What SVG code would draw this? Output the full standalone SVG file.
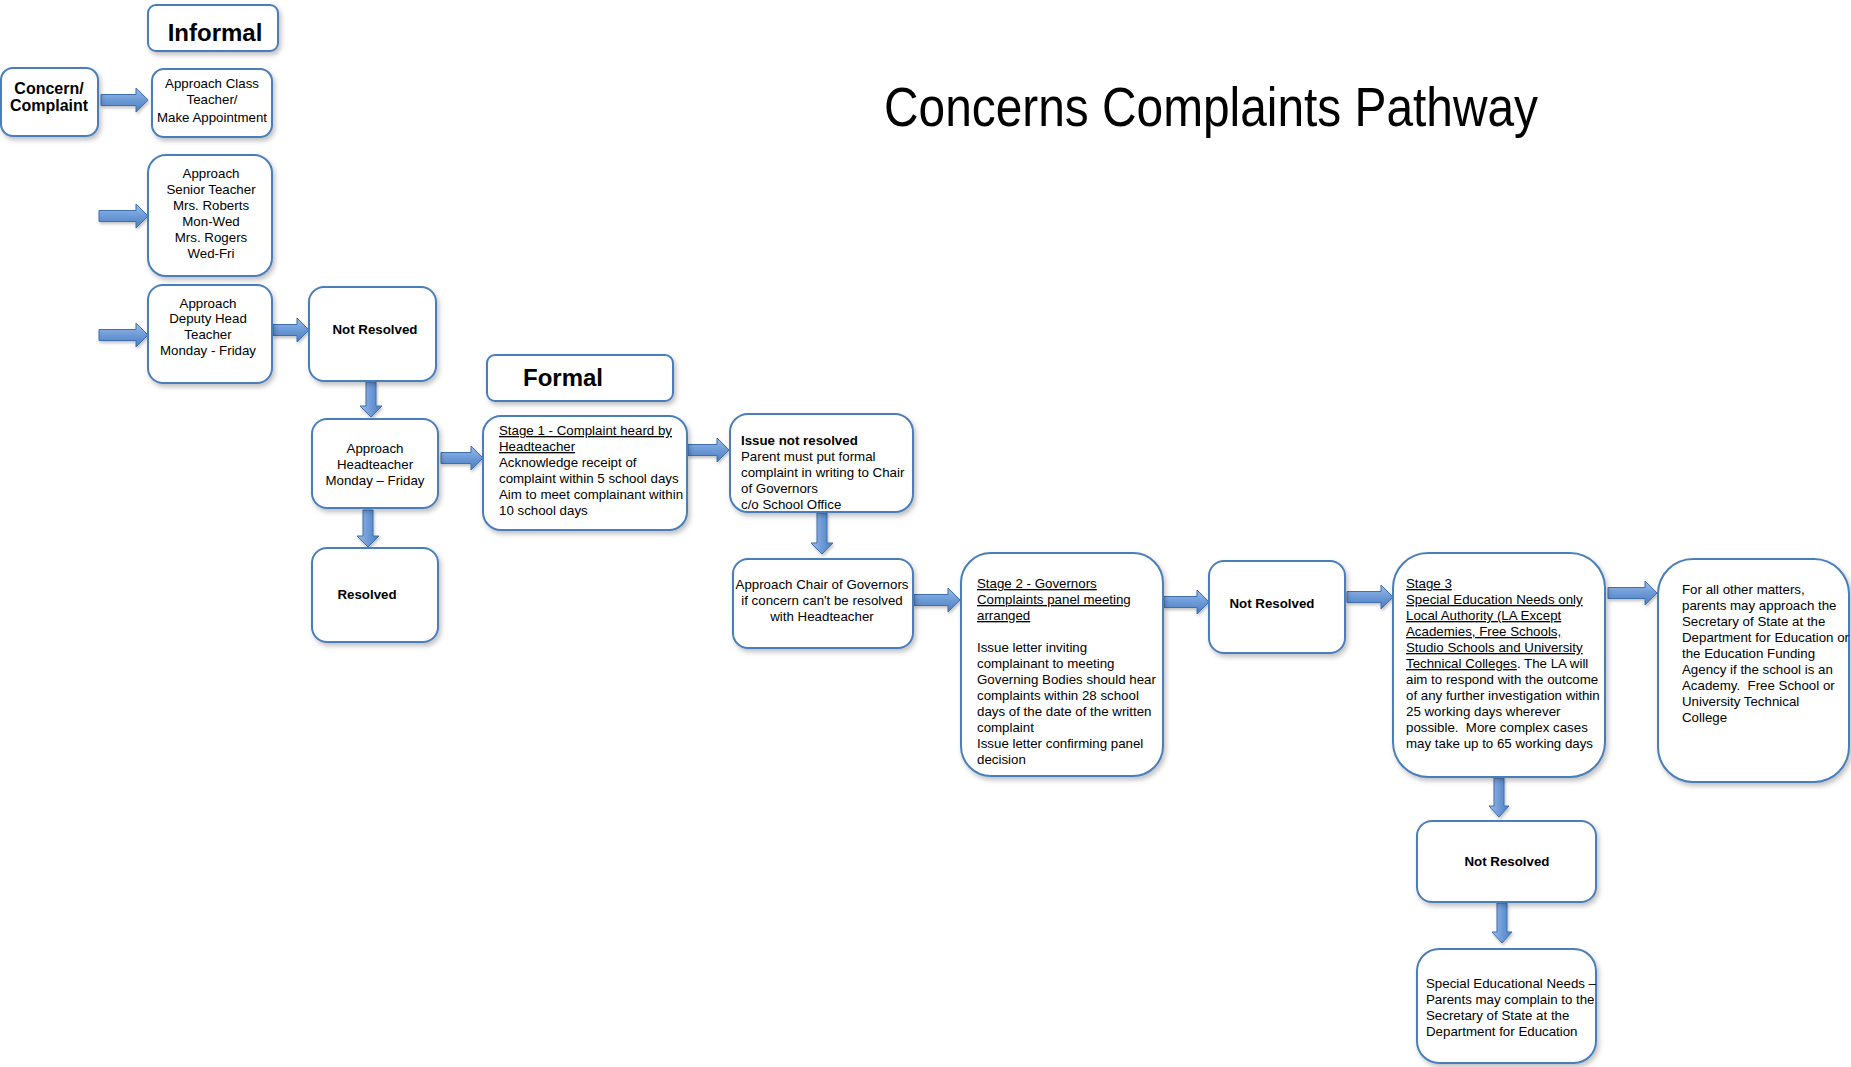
<svg xmlns="http://www.w3.org/2000/svg" width="1851" height="1067" viewBox="0 0 1851 1067">
<style>
.box{fill:#fff;stroke:#4a7ebb;stroke-width:2;filter:url(#sh)}
.t{font-family:"Liberation Sans",Arial,sans-serif;font-size:13.3px;fill:#000}
.c{text-anchor:middle}
.b{font-weight:bold}
.u{text-decoration:underline}
.pre{white-space:pre}
.hd{font-family:"Liberation Sans",Arial,sans-serif;font-size:24px;font-weight:bold;fill:#000;text-anchor:middle}
.ah{fill:url(#gh);stroke:#3f6fb0;stroke-width:1;filter:url(#sh2)}
.av{fill:url(#gv);stroke:#3f6fb0;stroke-width:1;filter:url(#sh2)}
</style>
<defs>
<filter id="sh" x="-10%" y="-10%" width="130%" height="130%">
<feDropShadow dx="2" dy="3" stdDeviation="2.5" flood-color="#000" flood-opacity="0.25"/>
</filter>
<filter id="sh2" x="-20%" y="-20%" width="140%" height="160%">
<feDropShadow dx="1" dy="2" stdDeviation="1.5" flood-color="#000" flood-opacity="0.25"/>
</filter>
<linearGradient id="gh" x1="0" y1="0" x2="0" y2="1">
<stop offset="0" stop-color="#9cbde8"/><stop offset="0.5" stop-color="#6d9ad8"/><stop offset="1" stop-color="#4a7ebb"/>
</linearGradient>
<linearGradient id="gv" x1="0" y1="0" x2="1" y2="0">
<stop offset="0" stop-color="#9cbde8"/><stop offset="0.5" stop-color="#6d9ad8"/><stop offset="1" stop-color="#4a7ebb"/>
</linearGradient>
</defs>
<rect width="1851" height="1067" fill="#fff"/>
<text x="884" y="126" font-family="'Liberation Sans',Arial,sans-serif" font-size="56" textLength="654" lengthAdjust="spacingAndGlyphs" fill="#000">Concerns Complaints Pathway</text>

<g id="connectors">
<path class="ah" d="M101,94.5 H136 V88 L148,100 L136,112 V105.5 H101 Z"/>
<path class="ah" d="M99,210.5 H136 V204 L148,216 L136,228 V221.5 H99 Z"/>
<path class="ah" d="M99,329.5 H136 V323 L148,335 L136,347 V340.5 H99 Z"/>
<path class="ah" d="M273,324.5 H297 V318 L309,330 L297,342 V335.5 H273 Z"/>
<path class="av" d="M366,382 V406 H360 L371,417 L382,406 H376 V382 Z"/>
<path class="av" d="M363,510 V536 H357 L368,547 L379,536 H373 V510 Z"/>
<path class="ah" d="M441,452.5 H471 V446 L483,458 L471,470 V463.5 H441 Z"/>
<path class="ah" d="M688,444.5 H717 V438 L729,450 L717,462 V455.5 H688 Z"/>
<path class="av" d="M817,513 V543 H811 L822,554 L833,543 H827 V513 Z"/>
<path class="ah" d="M914,594.5 H948 V588 L960,600 L948,612 V605.5 H914 Z"/>
<path class="ah" d="M1164,596.5 H1197 V590 L1209,602 L1197,614 V607.5 H1164 Z"/>
<path class="ah" d="M1347,591.5 H1381 V585 L1393,597 L1381,609 V602.5 H1347 Z"/>
<path class="ah" d="M1608,587.5 H1645 V581 L1657,593 L1645,605 V598.5 H1608 Z"/>
<path class="av" d="M1494,778 V806 H1489 L1499,817 L1509,806 H1504 V778 Z"/>
<path class="av" d="M1497,903 V932 H1492 L1502,943 L1512,932 H1507 V903 Z"/>
</g>

<g id="informal">
<rect class="box" x="148" y="5" width="130" height="46" rx="8"/>
<text class="hd" x="215" y="41">Informal</text>
</g>
<g id="concern">
<rect class="box" x="1" y="68" width="97" height="68" rx="12"/>
<text class="t c b" x="49" y="94" style="font-size:16px">Concern/</text>
<text class="t c b" x="49" y="111" style="font-size:16px">Complaint</text>
</g>
<g id="class-teacher">
<rect class="box" x="152" y="69" width="120" height="68" rx="12"/>
<text class="t c" x="212" y="88">Approach Class</text>
<text class="t c" x="212" y="104">Teacher/</text>
<text class="t c" x="212" y="122">Make Appointment</text>
</g>
<g id="senior-teacher">
<rect class="box" x="148" y="155" width="124" height="121" rx="18"/>
<text class="t c" x="211" y="178">Approach</text>
<text class="t c" x="211" y="194">Senior Teacher</text>
<text class="t c" x="211" y="210">Mrs. Roberts</text>
<text class="t c" x="211" y="226">Mon-Wed</text>
<text class="t c" x="211" y="242">Mrs. Rogers</text>
<text class="t c" x="211" y="258">Wed-Fri</text>
</g>
<g id="deputy-head">
<rect class="box" x="148" y="285" width="124" height="98" rx="15"/>
<text class="t c" x="208" y="308">Approach</text>
<text class="t c" x="208" y="323">Deputy Head</text>
<text class="t c" x="208" y="339">Teacher</text>
<text class="t c" x="208" y="355">Monday - Friday</text>
</g>
<g id="not-resolved-1">
<rect class="box" x="309" y="287" width="127" height="94" rx="15"/>
<text class="t c b" x="375" y="334">Not Resolved</text>
</g>
<g id="headteacher">
<rect class="box" x="312" y="419" width="126" height="89" rx="15"/>
<text class="t c" x="375" y="453">Approach</text>
<text class="t c" x="375" y="469">Headteacher</text>
<text class="t c" x="375" y="485">Monday – Friday</text>
</g>
<g id="resolved">
<rect class="box" x="312" y="548" width="126" height="94" rx="15"/>
<text class="t c b" x="367" y="599">Resolved</text>
</g>
<g id="formal">
<rect class="box" x="487" y="355" width="186" height="46" rx="8"/>
<text class="hd" x="563" y="386">Formal</text>
</g>
<g id="stage-1">
<rect class="box" x="483" y="416" width="204" height="114" rx="18"/>
<text class="t u" x="499" y="435">Stage 1 - Complaint heard by</text>
<text class="t u" x="499" y="451">Headteacher</text>
<text class="t" x="499" y="467">Acknowledge receipt of</text>
<text class="t" x="499" y="483">complaint within 5 school days</text>
<text class="t" x="499" y="499">Aim to meet complainant within</text>
<text class="t" x="499" y="515">10 school days</text>
</g>
<g id="issue-not-resolved">
<rect class="box" x="730" y="414" width="183" height="98" rx="18"/>
<text class="t b" x="741" y="445">Issue not resolved</text>
<text class="t" x="741" y="461">Parent must put formal</text>
<text class="t" x="741" y="477">complaint in writing to Chair</text>
<text class="t" x="741" y="493">of Governors</text>
<text class="t" x="741" y="509">c/o School Office</text>
</g>
<g id="chair-of-governors">
<rect class="box" x="733" y="559" width="180" height="89" rx="15"/>
<text class="t c" x="822" y="589">Approach Chair of Governors</text>
<text class="t c" x="822" y="605">if concern can't be resolved</text>
<text class="t c" x="822" y="621">with Headteacher</text>
</g>
<g id="stage-2">
<rect class="box" x="961" y="553" width="202" height="223" rx="30"/>
<text class="t u" x="977" y="588">Stage 2 - Governors</text>
<text class="t u" x="977" y="604">Complaints panel meeting</text>
<text class="t u" x="977" y="620">arranged</text>
<text class="t" x="977" y="652">Issue letter inviting</text>
<text class="t" x="977" y="668">complainant to meeting</text>
<text class="t" x="977" y="684">Governing Bodies should hear</text>
<text class="t" x="977" y="700">complaints within 28 school</text>
<text class="t" x="977" y="716">days of the date of the written</text>
<text class="t" x="977" y="732">complaint</text>
<text class="t" x="977" y="748">Issue letter confirming panel</text>
<text class="t" x="977" y="764">decision</text>
</g>
<g id="not-resolved-2">
<rect class="box" x="1209" y="561" width="136" height="92" rx="15"/>
<text class="t c b" x="1272" y="608">Not Resolved</text>
</g>
<g id="stage-3">
<rect class="box" x="1393" y="553" width="212" height="224" rx="35"/>
<text class="t u" x="1406" y="588">Stage 3</text>
<text class="t u" x="1406" y="604">Special Education Needs only</text>
<text class="t u" x="1406" y="620">Local Authority (LA Except</text>
<text class="t u" x="1406" y="636">Academies, Free Schools,</text>
<text class="t u" x="1406" y="652">Studio Schools and University</text>
<text class="t" x="1406" y="668"><tspan class="u">Technical Colleges</tspan>. The LA will</text>
<text class="t" x="1406" y="684">aim to respond with the outcome</text>
<text class="t" x="1406" y="700">of any further investigation within</text>
<text class="t" x="1406" y="716">25 working days wherever</text>
<text class="t pre" x="1406" y="732">possible.  More complex cases</text>
<text class="t" x="1406" y="748">may take up to 65 working days</text>
</g>
<g id="other-matters">
<rect class="box" x="1658" y="559" width="191" height="223" rx="35"/>
<text class="t" x="1682" y="594">For all other matters,</text>
<text class="t" x="1682" y="610">parents may approach the</text>
<text class="t" x="1682" y="626">Secretary of State at the</text>
<text class="t" x="1682" y="642">Department for Education or</text>
<text class="t" x="1682" y="658">the Education Funding</text>
<text class="t" x="1682" y="674">Agency if the school is an</text>
<text class="t pre" x="1682" y="690">Academy.  Free School or</text>
<text class="t" x="1682" y="706">University Technical</text>
<text class="t" x="1682" y="722">College</text>
</g>
<g id="not-resolved-3">
<rect class="box" x="1417" y="821" width="179" height="81" rx="15"/>
<text class="t c b" x="1507" y="866">Not Resolved</text>
</g>
<g id="sen-secretary">
<rect class="box" x="1417" y="949" width="179" height="114" rx="22"/>
<text class="t" x="1426" y="988">Special Educational Needs –</text>
<text class="t" x="1426" y="1004">Parents may complain to the</text>
<text class="t" x="1426" y="1020">Secretary of State at the</text>
<text class="t" x="1426" y="1036">Department for Education</text>
</g>
</svg>
